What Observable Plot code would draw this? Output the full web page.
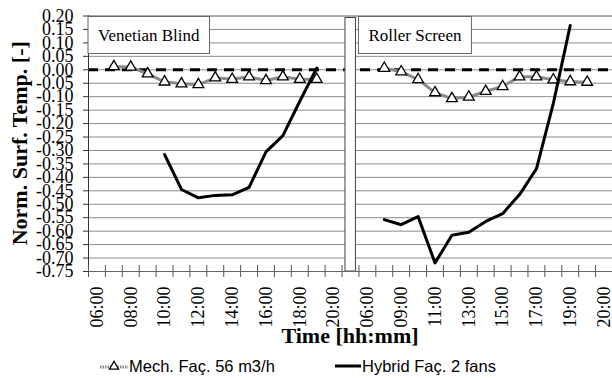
<!DOCTYPE html>
<html><head><meta charset="utf-8">
<script src="https://cdn.jsdelivr.net/npm/d3@7"></script>
<script src="https://cdn.jsdelivr.net/npm/@observablehq/plot@0.6"></script>
<style>
body{margin:0;background:#fff;}
#wrap{position:relative;width:612px;height:378px;overflow:hidden;background:#fff;}
#legend{position:absolute;left:0;top:353px;width:612px;height:26px;font-family:"Liberation Sans",Arial,sans-serif;font-size:16.5px;color:#000;}
.item{position:absolute;top:0;height:26px;display:flex;align-items:center;white-space:nowrap;}
.item svg{margin-right:1px;}
</style></head><body>
<div id="wrap"><div id="chart"></div><div id="legend"></div></div>
<script>
// ---- categories (two panels separated by an empty gap category) ----
const panelNames = ["Venetian Blind", "Roller Screen"];
const leftTimes = ["06:00","07:00","08:00","09:00","10:00","11:00","12:00","13:00","14:00","15:00","16:00","17:00","18:00","19:00","20:00"];
const rightTimes = ["06:00","08:00","09:00","10:00","11:00","12:00","13:00","14:00","15:00","16:00","17:00","18:00","19:00","19:30","20:00"];
// tick labels actually printed under the axis
const leftLabels = ["06:00","08:00","10:00","12:00","14:00","16:00","18:00","20:00"];
const rightLabels = ["06:00","09:00","11:00","13:00","15:00","17:00","19:00","20:00"];
const yTickValues = [0.20,0.15,0.10,0.05,0.00,-0.05,-0.10,-0.15,-0.20,-0.25,-0.30,-0.35,-0.40,-0.45,-0.50,-0.55,-0.60,-0.65,-0.70,-0.75];
const xTitle = "Time [hh:mm]";
const yTitle = "Norm. Surf. Temp. [-]";

// ---- series ----
const seriesNames = ["Mech. Faç. 56 m3/h", "Hybrid Faç. 2 fans"];
const mechVenetianTimes = ["07:00","08:00","09:00","10:00","11:00","12:00","13:00","14:00","15:00","16:00","17:00","18:00","19:00"];
const mechVenetian = [0.012, 0.010, -0.015, -0.045, -0.052, -0.055, -0.030, -0.035, -0.026, -0.040, -0.026, -0.035, -0.035];
const hybridVenetianTimes = ["10:00","11:00","12:00","13:00","14:00","15:00","16:00","17:00","18:00","19:00"];
const hybridVenetian = [-0.315, -0.445, -0.476, -0.467, -0.465, -0.437, -0.305, -0.245, -0.117, 0.006];
const mechRollerTimes = ["08:00","09:00","10:00","11:00","12:00","13:00","14:00","15:00","16:00","17:00","18:00","19:00","19:30"];
const mechRoller = [0.006, -0.007, -0.036, -0.085, -0.107, -0.101, -0.080, -0.062, -0.026, -0.026, -0.037, -0.044, -0.046];
const hybridRollerTimes = ["08:00","09:00","10:00","11:00","12:00","13:00","14:00","15:00","16:00","17:00","18:00","19:00"];
const hybridRoller = [-0.557, -0.576, -0.546, -0.718, -0.615, -0.604, -0.564, -0.535, -0.464, -0.368, -0.125, 0.165];

// ---- build ordinal positions ----
const keys = [
  ...leftTimes.map(t => panelNames[0] + "|" + t),
  "gap",
  ...rightTimes.map(t => panelNames[1] + "|" + t)
];
const pos = (panel, t) => keys.indexOf(panel + "|" + t) + 0.5;
const rows = [];
function addSeries(panel, series, times, values) {
  times.forEach((t, i) => rows.push({panel, series, time: t, x: pos(panel, t), value: values[i]}));
}
addSeries(panelNames[0], seriesNames[0], mechVenetianTimes, mechVenetian);
addSeries(panelNames[0], seriesNames[1], hybridVenetianTimes, hybridVenetian);
addSeries(panelNames[1], seriesNames[0], mechRollerTimes, mechRoller);
addSeries(panelNames[1], seriesNames[1], hybridRollerTimes, hybridRoller);
const mechRows = rows.filter(d => d.series === seriesNames[0]);
const hybridRows = rows.filter(d => d.series === seriesNames[1]);

const labelTicks = [
  ...leftLabels.map(t => ({x: pos(panelNames[0], t), text: t})),
  ...rightLabels.map(t => ({x: pos(panelNames[1], t), text: t}))
];
const labelMap = new Map(labelTicks.map(d => [d.x, d.text]));
const boundaries = d3.range(0, keys.length + 1);
const gapIndex = keys.indexOf("gap");
const yMin = d3.min(yTickValues), yMax = d3.max(yTickValues);
const fmt = v => { const r = Math.round(v * 100) / 100; return (r === 0 ? 0 : r).toFixed(2); };
const panels = panelNames.map(p => ({label: p, x: keys.indexOf(p + "|" + (p === panelNames[0] ? leftTimes[0] : rightTimes[0]))}));

const measureCtx = document.createElement("canvas").getContext("2d");
measureCtx.font = "17px 'Liberation Serif'";
const serif = "'Liberation Serif', 'Times New Roman', serif";

// axis titles placed relative to the frame
function titleMark(text, where) {
  return Plot.text([text], {frameAnchor: "middle", render(index, scales, values, dims) {
    const left = dims.marginLeft, right = dims.width - dims.marginRight;
    const top = dims.marginTop, bottom = dims.height - dims.marginBottom;
    const t = d3.create("svg:text").attr("font-family", serif).attr("font-size", 22)
      .attr("font-weight", "bold").attr("text-anchor", "middle").attr("fill", "black").text(text);
    if (where === "x") t.attr("x", (left + right) / 2).attr("y", bottom + 72);
    else t.attr("transform", `translate(${left - 61},${(top + bottom) / 2}) rotate(-90)`);
    return t.node();
  }});
}

const chart = Plot.plot({
  width: 612, height: 353,
  marginLeft: 88, marginRight: 0, marginTop: 15.5, marginBottom: 82,
  x: {domain: [0, keys.length]},
  y: {domain: [yMin, yMax]},
  style: {background: "white", fontFamily: serif, color: "black"},
  marks: [
    Plot.ruleY(yTickValues, {stroke: d => d === yMax ? "#555" : "#8c8c8c", strokeWidth: 1}),
    Plot.ruleY([0], {stroke: "black", strokeWidth: 3, strokeDasharray: "10,7"}),
    Plot.rect([gapIndex], {x1: d => d, x2: d => d + 1, y1: yMin, y2: yMax, insetLeft: 3.4, insetRight: 3, insetTop: 2, fill: "white", stroke: "#444", strokeWidth: 1}),
    Plot.ruleY([yMin], {stroke: "#666"}),
    Plot.ruleX([0], {y1: yMin, y2: yMax, stroke: "#333"}),
    Plot.ruleX(boundaries, {y1: yMin, y2: yMin, insetTop: -6, insetBottom: -6, stroke: "#555"}),
    Plot.axisY({ticks: yTickValues, tickFormat: fmt, tickSize: 5, tickPadding: 10, fontSize: 18, label: null, stroke: "#333"}),
    Plot.axisX({ticks: labelTicks.map(d => d.x), tickFormat: d => labelMap.get(d), tickSize: 0, tickPadding: 15, tickRotate: -90, fontSize: 18, label: null}),
    titleMark(xTitle, "x"),
    titleMark(yTitle, "y"),
    Plot.line(mechRows, {x: "x", y: "value", z: "panel", stroke: "#8a8a8a", strokeWidth: 3, strokeDasharray: "1.5,1"}),
    Plot.dot(mechRows, {x: "x", y: "value", symbol: "triangle", r: 4, fill: "white", stroke: "black", strokeWidth: 1.3}),
    Plot.line(hybridRows, {x: "x", y: "value", z: "panel", stroke: "black", strokeWidth: 3}),
    Plot.text(panels, {x: "x", y: yMax, text: "label", render(index, scales, values) {
      const g = d3.create("svg:g");
      const pad = 10;
      for (const i of index) {
        const x = values.x[i], y = values.y[i] + 1;
        const label = panels[i].label;
        const w = measureCtx.measureText(label).width + 2 * pad;
        g.append("rect").attr("x", x).attr("y", y).attr("width", w).attr("height", 37)
          .attr("fill", "white").attr("stroke", "#666").attr("stroke-width", 1);
        g.append("text").attr("x", x + w / 2).attr("y", y + 18.5).attr("dy", "0.35em")
          .attr("text-anchor", "middle").attr("font-size", 17)
          .attr("font-family", serif).attr("fill", "black").text(label);
      }
      return g.node();
    }})
  ]
});
document.getElementById("chart").appendChild(chart);

// ---- legend ----
const legend = d3.select("#legend");
const it1 = legend.append("div").attr("class", "item").style("left", "100px");
const s1 = it1.append("svg").attr("width", 28).attr("height", 14);
s1.append("line").attr("x1", 0).attr("x2", 28).attr("y1", 8).attr("y2", 8).attr("stroke", "#8a8a8a").attr("stroke-width", 3).attr("stroke-dasharray", "1.5,1");
s1.append("path").attr("d", d3.symbol(d3.symbolTriangle, 36)()).attr("transform", "translate(14,7.5)").attr("fill", "white").attr("stroke", "black").attr("stroke-width", 1.3);
it1.append("span").text(seriesNames[0]);
const it2 = legend.append("div").attr("class", "item").style("left", "335px");
const s2 = it2.append("svg").attr("width", 26).attr("height", 14);
s2.append("line").attr("x1", 0).attr("x2", 26).attr("y1", 7).attr("y2", 7).attr("stroke", "black").attr("stroke-width", 3);
it2.append("span").text(seriesNames[1]);
</script>
</body></html>
